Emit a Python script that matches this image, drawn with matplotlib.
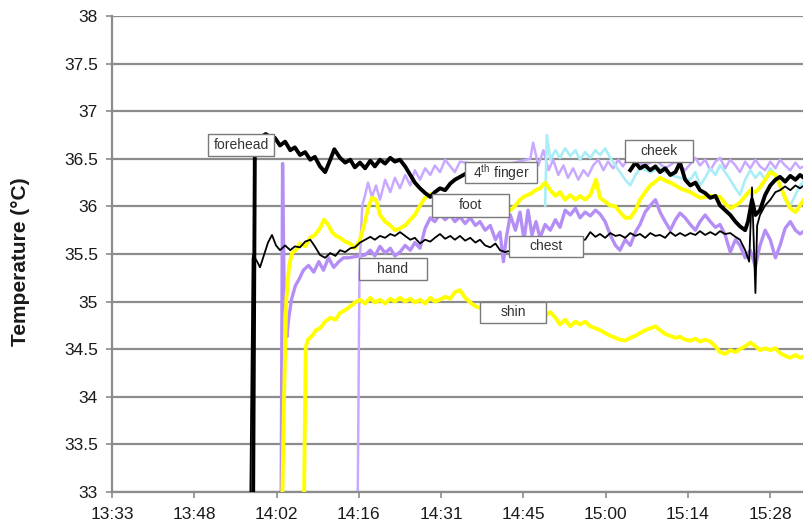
import matplotlib.pyplot as plt
import numpy as np
from matplotlib.patches import Rectangle
from matplotlib.ticker import FixedLocator, FuncFormatter

plt.rcParams["font.family"] = ["Liberation Sans", "DejaVu Sans"]
plt.rcParams["mathtext.fontset"] = "custom"
plt.rcParams["mathtext.rm"] = "Liberation Sans"

# (minutes after midnight, temperature degC)
forehead = [
    (838.3, 32.9), (838.6, 36.60), (839.5, 36.72), (840.5, 36.76), (841.5, 36.72), (842.1, 36.72),
    (843.0, 36.64), (843.9, 36.68), (844.8, 36.59), (845.6, 36.62), (846.5, 36.54), (847.4, 36.57),
    (848.3, 36.49), (849.1, 36.52), (850.0, 36.42), (850.9, 36.36), (851.8, 36.49), (852.5, 36.60),
    (853.5, 36.51), (854.4, 36.46), (855.3, 36.49), (856.1, 36.41), (857.0, 36.46), (857.9, 36.40),
    (858.8, 36.48), (859.6, 36.42), (860.5, 36.49), (861.4, 36.45), (862.3, 36.51), (863.1, 36.47),
    (864.0, 36.49), (864.9, 36.42), (865.8, 36.33), (866.6, 36.25), (867.5, 36.19), (868.4, 36.14),
    (869.3, 36.10), (870.1, 36.15), (871.0, 36.19), (871.9, 36.17), (872.8, 36.24), (873.6, 36.28),
    (874.5, 36.31), (875.4, 36.34), (875.5, np.nan),
    (904.3, 36.38), (905.2, 36.46), (906.0, 36.40), (906.9, 36.43), (907.8, 36.38), (908.7, 36.42),
    (909.5, 36.36), (910.4, 36.40), (911.3, 36.33), (912.2, 36.36), (913.0, 36.46), (913.9, 36.28),
    (914.8, 36.22), (915.7, 36.25), (916.5, 36.17), (917.4, 36.14), (918.3, 36.09), (919.2, 36.11),
    (920.0, 36.01), (920.9, 35.96), (921.8, 35.91), (922.7, 35.84), (923.5, 35.79), (924.4, 35.75),
    (924.9, 35.84), (925.6, 36.07), (926.2, 35.91), (927.0, 35.96), (927.9, 36.12), (928.8, 36.22),
    (929.7, 36.28), (930.5, 36.31), (931.4, 36.26), (932.3, 36.32), (933.2, 36.28), (934.0, 36.33),
    (934.9, 36.29),
]

chest = [
    (837.8, 32.9), (838.2, 35.45), (838.3, 35.49), (839.0, 35.42), (839.5, 35.36), (840.2, 35.49),
    (840.9, 35.62), (841.6, 35.70), (842.3, 35.59), (843.0, 35.54), (843.9, 35.59), (844.8, 35.54),
    (845.6, 35.58), (846.5, 35.57), (847.4, 35.63), (848.3, 35.65), (849.1, 35.58), (850.0, 35.49),
    (850.9, 35.46), (851.8, 35.51), (852.7, 35.48), (853.5, 35.54), (854.4, 35.52), (855.3, 35.56),
    (856.1, 35.57), (857.0, 35.62), (857.9, 35.65), (858.8, 35.68), (859.6, 35.65), (860.5, 35.69),
    (861.4, 35.67), (862.3, 35.71), (863.1, 35.69), (864.0, 35.73), (864.9, 35.69), (865.8, 35.65),
    (866.6, 35.67), (867.5, 35.61), (868.4, 35.65), (869.3, 35.63), (870.1, 35.67), (871.0, 35.71),
    (871.9, 35.66), (872.8, 35.69), (873.6, 35.65), (874.5, 35.69), (875.4, 35.64), (876.3, 35.67),
    (877.2, 35.62), (878.0, 35.65), (878.9, 35.59), (879.8, 35.57), (880.7, 35.61), (881.5, 35.54),
    (882.4, 35.52), (884.2, 35.55), (886.8, 35.58), (889.4, 35.60), (892.0, 35.62), (894.7, 35.64),
    (896.4, 35.65), (897.3, 35.73), (898.2, 35.68), (899.0, 35.71), (899.9, 35.67), (900.8, 35.72),
    (901.7, 35.69), (902.5, 35.70), (903.4, 35.67), (904.3, 35.72), (905.2, 35.69), (906.0, 35.71),
    (906.9, 35.67), (907.8, 35.72), (908.7, 35.69), (909.5, 35.70), (910.4, 35.67), (911.3, 35.73),
    (912.2, 35.69), (913.0, 35.72), (913.9, 35.69), (914.8, 35.72), (915.7, 35.70), (916.5, 35.74),
    (917.4, 35.70), (918.3, 35.73), (919.2, 35.70), (920.0, 35.74), (920.9, 35.71), (921.8, 35.72),
    (922.7, 35.68), (923.5, 35.65), (924.4, 35.54), (925.1, 35.42), (925.6, 36.20), (926.2, 35.09),
    (926.5, 35.80), (927.0, 35.91), (927.9, 36.01), (928.8, 36.07), (929.7, 36.15), (930.5, 36.17),
    (931.4, 36.21), (932.3, 36.17), (933.2, 36.22), (934.0, 36.19), (934.9, 36.23),
]

hand = [
    (843.2, 32.9), (843.45, 36.45), (843.7, 35.20), (844.2, 34.63), (844.5, 34.81), (845.0, 35.02),
    (845.7, 35.17), (846.3, 35.23), (847.1, 35.33), (848.0, 35.38), (848.9, 35.31), (849.8, 35.42),
    (850.6, 35.33), (851.5, 35.46), (852.4, 35.36), (853.3, 35.42), (854.1, 35.46), (855.0, 35.46),
    (857.9, 35.49), (858.8, 35.54), (859.6, 35.48), (860.5, 35.58), (861.4, 35.51), (862.3, 35.56),
    (863.1, 35.48), (864.0, 35.52), (864.9, 35.59), (865.8, 35.54), (866.6, 35.62), (867.5, 35.56),
    (868.4, 35.77), (869.3, 35.88), (870.1, 35.84), (871.0, 35.92), (871.9, 35.86), (872.8, 35.91),
    (873.6, 35.84), (874.5, 35.89), (875.4, 35.82), (876.3, 35.88), (877.2, 35.80), (878.0, 35.84),
    (878.9, 35.75), (879.8, 35.80), (880.7, 35.65), (881.5, 35.73), (882.1, 35.42), (882.6, 35.67),
    (883.3, 35.91), (884.2, 35.75), (885.0, 35.94), (885.7, 35.65), (886.4, 35.96), (887.1, 35.70),
    (887.8, 35.84), (888.5, 35.67), (889.4, 35.81), (890.3, 35.75), (891.2, 35.86), (892.0, 35.78),
    (892.9, 35.96), (893.8, 35.91), (894.7, 35.98), (895.5, 35.88), (896.4, 35.94), (897.3, 35.90),
    (898.2, 35.96), (899.0, 35.92), (899.9, 35.84), (900.8, 35.70), (901.7, 35.59), (902.5, 35.54),
    (903.4, 35.65), (904.3, 35.59), (905.2, 35.73), (906.0, 35.81), (906.9, 35.94), (907.8, 36.01),
    (908.7, 36.07), (909.5, 35.94), (910.4, 35.84), (911.3, 35.75), (912.2, 35.86), (913.0, 35.93),
    (913.9, 35.88), (914.8, 35.81), (915.7, 35.75), (916.5, 35.84), (917.4, 35.91), (918.3, 35.84),
    (919.2, 35.78), (920.0, 35.81), (920.9, 35.70), (921.8, 35.52), (922.7, 35.65), (923.5, 35.59),
    (924.4, 35.46), (925.3, 35.54), (926.2, 35.37), (927.0, 35.59), (927.9, 35.75), (928.8, 35.65),
    (929.7, 35.46), (930.5, 35.59), (931.4, 35.77), (932.3, 35.84), (933.2, 35.75), (934.0, 35.71),
    (934.9, 35.75),
]

finger4 = [
    (856.6, 32.9), (856.9, 35.30), (857.2, 35.75), (857.4, 36.01), (857.9, 36.12), (858.4, 36.25),
    (859.1, 36.10), (859.8, 36.22), (860.5, 36.07), (861.4, 36.28), (862.3, 36.15), (863.1, 36.30),
    (864.0, 36.19), (864.9, 36.33), (865.8, 36.22), (866.6, 36.38), (867.5, 36.28), (868.4, 36.40),
    (869.3, 36.33), (870.1, 36.43), (871.0, 36.36), (871.9, 36.49), (872.8, 36.42), (873.6, 36.36),
    (874.5, 36.47), (876.3, 36.45), (879.8, 36.40), (883.3, 36.45), (886.8, 36.50), (887.3, 36.67),
    (888.2, 36.43), (889.1, 36.59), (890.0, 36.38), (890.8, 36.49), (891.7, 36.33), (892.6, 36.43),
    (893.4, 36.30), (894.3, 36.40), (895.2, 36.28), (896.1, 36.38), (896.9, 36.32), (897.8, 36.43),
    (898.7, 36.49), (899.6, 36.38), (900.4, 36.47), (901.3, 36.40), (902.2, 36.49), (903.0, 36.42),
    (903.9, 36.51), (905.2, 36.47), (906.9, 36.43), (908.7, 36.49), (910.4, 36.40), (912.2, 36.47),
    (913.9, 36.38), (915.7, 36.51), (916.5, 36.43), (917.4, 36.49), (918.3, 36.38), (919.2, 36.47),
    (920.0, 36.51), (920.9, 36.40), (921.8, 36.49), (922.7, 36.43), (923.5, 36.36), (924.4, 36.47),
    (925.3, 36.40), (926.2, 36.49), (927.0, 36.42), (927.9, 36.38), (928.8, 36.47), (929.7, 36.40),
    (930.5, 36.49), (931.4, 36.43), (932.3, 36.38), (933.2, 36.46), (934.0, 36.40), (934.9, 36.43),
]

cheek = [
    (889.4, 36.01), (889.7, 36.75), (890.3, 36.49), (891.2, 36.59), (892.0, 36.51), (892.9, 36.61),
    (893.8, 36.53), (894.7, 36.59), (895.5, 36.49), (896.4, 36.57), (897.3, 36.51), (898.2, 36.59),
    (899.0, 36.54), (899.9, 36.61), (900.8, 36.51), (901.7, 36.43), (902.5, 36.36), (903.4, 36.28),
    (904.3, 36.22), (905.2, 36.33), (906.0, 36.40), (907.8, 36.36), (909.5, 36.40), (911.3, 36.33),
    (913.0, 36.30), (914.8, 36.28), (915.7, 36.36), (916.5, 36.22), (917.4, 36.30), (918.3, 36.40),
    (919.2, 36.33), (920.0, 36.43), (920.9, 36.36), (921.8, 36.28), (922.7, 36.19), (923.5, 36.12),
    (924.4, 36.28), (925.3, 36.38), (926.2, 36.30), (927.0, 36.36), (927.9, 36.28), (928.8, 36.40),
    (929.7, 36.33), (930.5, 36.22), (931.4, 36.07), (932.3, 36.01), (933.2, 36.12), (934.0, 36.22),
    (934.9, 36.28),
]

foot = [
    (843.4, 32.9), (843.7, 33.97), (844.1, 35.02), (844.6, 35.38), (845.1, 35.51), (845.8, 35.54),
    (846.5, 35.61), (847.4, 35.58), (848.3, 35.67), (849.1, 35.70), (850.0, 35.77), (850.7, 35.86),
    (851.4, 35.81), (852.1, 35.73), (852.8, 35.69), (853.5, 35.67), (854.4, 35.63), (855.3, 35.61),
    (856.1, 35.56), (857.0, 35.65), (857.7, 35.80), (858.4, 35.98), (859.1, 36.09), (859.8, 36.07),
    (860.5, 35.91), (861.4, 35.84), (862.3, 35.80), (863.1, 35.75), (864.0, 35.77), (864.9, 35.80),
    (865.8, 35.86), (866.6, 35.91), (867.5, 36.01), (868.4, 36.09), (869.3, 36.13), (871.0, 36.02),
    (873.6, 35.94), (876.3, 35.91), (878.9, 35.91), (881.5, 35.94), (883.3, 35.96), (884.2, 36.01),
    (885.0, 36.07), (885.9, 36.11), (886.8, 36.13), (887.7, 36.17), (888.5, 36.19), (889.4, 36.25),
    (890.3, 36.17), (891.2, 36.11), (892.0, 36.15), (892.9, 36.07), (893.8, 36.12), (894.7, 36.07),
    (895.5, 36.11), (896.4, 36.07), (897.3, 36.12), (898.3, 36.28), (899.0, 36.09), (899.9, 36.05),
    (900.8, 36.01), (901.7, 36.00), (902.5, 35.94), (903.4, 35.88), (904.3, 35.88), (905.2, 35.96),
    (906.0, 36.07), (906.9, 36.15), (907.8, 36.22), (908.7, 36.26), (909.5, 36.30), (910.4, 36.27),
    (911.3, 36.25), (912.2, 36.22), (913.0, 36.19), (914.8, 36.15), (916.5, 36.09), (918.3, 36.11),
    (920.0, 36.10), (920.9, 36.03), (921.8, 35.98), (922.7, 36.01), (923.5, 36.04), (924.4, 36.11),
    (925.3, 36.17), (926.2, 36.15), (927.0, 36.20), (927.9, 36.28), (928.8, 36.36), (929.7, 36.33),
    (930.5, 36.22), (931.4, 36.09), (932.3, 35.98), (933.2, 35.94), (934.0, 36.01), (934.9, 36.09),
]

shin = [
    (847.2, 32.9), (847.5, 34.52), (847.9, 34.60), (848.6, 34.64), (849.3, 34.70), (850.0, 34.72),
    (850.9, 34.79), (851.8, 34.83), (852.7, 34.81), (853.5, 34.88), (854.4, 34.91), (855.3, 34.95),
    (856.1, 34.99), (857.0, 35.02), (857.9, 34.98), (858.8, 35.04), (859.6, 34.99), (860.5, 35.02),
    (861.4, 34.98), (862.3, 35.03), (863.1, 35.00), (864.0, 35.04), (864.9, 35.00), (865.8, 35.03),
    (866.6, 34.99), (867.5, 35.02), (868.4, 34.98), (869.3, 35.04), (870.1, 35.00), (871.0, 35.02),
    (871.9, 35.05), (872.8, 35.03), (873.6, 35.10), (874.5, 35.12), (875.4, 35.04), (876.3, 34.99),
    (877.2, 34.95), (879.8, 34.90), (883.3, 34.86), (886.8, 34.82), (888.5, 34.79), (889.4, 34.85),
    (890.3, 34.89), (891.2, 34.83), (892.0, 34.76), (892.9, 34.81), (893.8, 34.74), (894.7, 34.79),
    (895.5, 34.76), (896.4, 34.79), (897.3, 34.74), (898.2, 34.72), (899.0, 34.70), (899.9, 34.67),
    (900.8, 34.64), (901.7, 34.62), (902.5, 34.60), (903.4, 34.59), (904.3, 34.62), (905.2, 34.64),
    (906.0, 34.67), (906.9, 34.70), (907.8, 34.72), (908.7, 34.74), (909.5, 34.70), (910.4, 34.66),
    (911.3, 34.64), (912.2, 34.62), (913.0, 34.63), (913.9, 34.60), (914.8, 34.59), (915.7, 34.61),
    (916.5, 34.58), (917.4, 34.60), (918.3, 34.58), (919.2, 34.53), (920.0, 34.47), (920.9, 34.45),
    (921.8, 34.49), (922.7, 34.47), (923.5, 34.50), (924.4, 34.53), (925.3, 34.57), (926.2, 34.53),
    (927.0, 34.49), (927.9, 34.51), (928.8, 34.49), (929.7, 34.51), (930.5, 34.46), (931.4, 34.43),
    (932.3, 34.41), (933.2, 34.44), (934.0, 34.41), (934.9, 34.43),
]

x_ticks = [813.6, 828.0, 842.4, 856.8, 871.2, 885.6, 900.0, 914.4, 928.8]
y_ticks = [33, 33.5, 34, 34.5, 35, 35.5, 36, 36.5, 37, 37.5, 38]

# text, left/right (minutes), bottom/top (degC) of each callout box
callouts = [
    ("forehead", 830.4, 842.0, 36.53, 36.76),
    ("4$^{\\mathrm{th}}$ finger", 875.4, 888.0, 36.25, 36.47),
    ("foot", 869.6, 883.1, 35.89, 36.13),
    ("chest", 883.1, 896.1, 35.47, 35.69),
    ("hand", 856.8, 868.7, 35.23, 35.46),
    ("cheek", 903.4, 915.3, 36.47, 36.70),
    ("shin", 878.0, 889.6, 34.78, 35.00),
]

GREY = "#8c8c8c"

fig = plt.figure(figsize=(8.04, 5.29), dpi=100)
ax = fig.add_axes([0.1393, 0.0699, 0.8607, 0.8999])

series = [
    (hand, "#b48ef5", 2.4, 2.0),
    (finger4, "#c9a9ff", 1.8, 2.1),
    (cheek, "#a9eef7", 1.9, 2.2),
    (foot, "#ffff00", 2.8, 3.0),
    (shin, "#ffff00", 2.8, 3.0),
    (chest, "black", 1.3, 4.0),
    (forehead, "black", 2.8, 5.0),
]
for data, color, lw, z in series:
    t, v = np.array(data).T
    ax.plot(t, v, color=color, lw=lw, zorder=z)

for text, x0, x1, y0, y1 in callouts:
    ax.add_patch(Rectangle((x0, y0), x1 - x0, y1 - y0, facecolor="white",
                           edgecolor="#7a7a7a", lw=1.0, zorder=10))
    ax.text((x0 + x1) / 2, (y0 + y1) / 2, text, ha="center", va="center",
            fontsize=10, color="#333333", zorder=11)

ax.set_xlim(813.6, 934.7)
ax.set_ylim(33, 38)
ax.xaxis.set_major_locator(FixedLocator(x_ticks))
ax.xaxis.set_major_formatter(FuncFormatter(
    lambda x, pos: f"{int(x + 1e-6) // 60}:{int(x + 1e-6) % 60:02d}"))
ax.yaxis.set_major_locator(FixedLocator(y_ticks))
ax.yaxis.set_major_formatter(FuncFormatter(lambda y, pos: f"{y:g}"))

ax.grid(axis="y", color=GREY, lw=1.6, zorder=1)
ax.set_axisbelow(True)
for side in ("top", "right"):
    ax.spines[side].set_visible(False)
for side in ("left", "bottom"):
    ax.spines[side].set_color(GREY)
    ax.spines[side].set_linewidth(1.6)
ax.tick_params(axis="both", colors=GREY, length=4, width=1.2, labelsize=12.5,
               labelcolor="#1a1a1a")
ax.tick_params(axis="y", pad=6)
ax.tick_params(axis="x", pad=7)

fig.text(0.026, 0.505, "Temperature (°C)", rotation=90, ha="center", va="center",
         fontsize=15, fontweight="bold", color="#1a1a1a")

fig.savefig("out.png", dpi=100)
